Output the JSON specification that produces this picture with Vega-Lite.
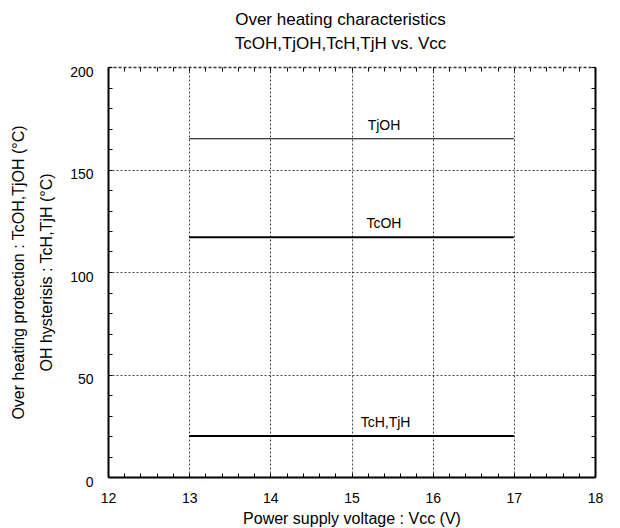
{
  "$schema": "https://vega.github.io/schema/vega-lite/v6.json",
  "width": 487,
  "height": 410,
  "autosize": {"type": "none"},
  "padding": {"left": 108, "top": 67, "right": 25, "bottom": 51},
  "background": "white",
  "config": {
    "view": {"stroke": null},
    "font": "Liberation Sans",
    "axis": {"labelFont": "Liberation Sans", "titleFont": "Liberation Sans", "labelColor": "#000", "titleColor": "#000", "titleFontWeight": "normal"}
  },
  "title": {
    "text": ["Over heating characteristics", "TcOH,TjOH,TcH,TjH vs. Vcc"],
    "fontSize": 17,
    "fontWeight": "normal",
    "font": "Liberation Sans",
    "color": "#000",
    "lineHeight": 24,
    "offset": 12,
    "dx": -11
  },
  "layer": [
    {
      "data": {"values": [
        {"series": "TjOH", "v1": 13, "v2": 17, "t": 165},
        {"series": "TcOH", "v1": 13, "v2": 17, "t": 117},
        {"series": "TcH,TjH", "v1": 13, "v2": 17, "t": 20}
      ]},
      "mark": {"type": "rule", "color": "#000"},
      "encoding": {
        "x": {"field": "v1", "type": "quantitative",
          "scale": {"domain": [12, 18], "nice": false, "zero": false},
          "axis": {
            "orient": "bottom",
            "title": "Power supply voltage : Vcc (V)",
            "titleFontSize": 16,
            "titlePadding": 5,
            "values": [12,12.2,12.4,12.6,12.8,13,13.2,13.4,13.6,13.8,14,14.2,14.4,14.6,14.8,15,15.2,15.4,15.6,15.8,16,16.2,16.4,16.6,16.8,17,17.2,17.4,17.6,17.8,18],
            "labelExpr": "abs(datum.value - round(datum.value)) < 0.001 ? format(datum.value, 'd') : ''",
            "labelOverlap": false,
            "labelFlush": false,
            "labelFontSize": 14,
            "labelPadding": 18,
            "tickSize": -4,
            "tickColor": "#000",
            "tickWidth": 1,
            "domainColor": "#000",
            "domainWidth": 2,
            "grid": true,
            "gridColor": "#444",
            "gridDash": [2, 2],
            "gridWidth": 1,
            "gridOpacity": {"condition": {"test": "abs(datum.value - round(datum.value)) < 0.001 && datum.value > 12.5 && datum.value < 17.5", "value": 1}, "value": 0}
          }
        },
        "x2": {"field": "v2"},
        "y": {"field": "t", "type": "quantitative",
          "scale": {"domain": [0, 200], "nice": false},
          "axis": {
            "orient": "left",
            "title": ["Over heating protection : TcOH,TjOH (°C)", "OH hysterisis : TcH,TjH (°C)"],
            "titleFontSize": 16,
            "titleLineHeight": 28,
            "titleBaseline": "middle",
            "titleX": -90,
            "values": [0,10,20,30,40,50,60,70,80,90,100,110,120,130,140,150,160,170,180,190,200],
            "labelExpr": "datum.value % 50 == 0 ? format(datum.value, 'd') : ''",
            "labelOverlap": false,
            "labelFlush": false,
            "labelFontSize": 14,
            "labelPadding": 19,
            "labelBaseline": "top",
            "labelOffset": -2,
            "tickSize": -4,
            "tickColor": "#000",
            "tickWidth": 1,
            "domainColor": "#000",
            "domainWidth": 2,
            "grid": true,
            "gridColor": "#444",
            "gridDash": [2, 2],
            "gridWidth": 1,
            "gridOpacity": {"condition": {"test": "datum.value % 50 == 0 && datum.value > 0 && datum.value < 200", "value": 1}, "value": 0}
          }
        },
        "strokeWidth": {"condition": {"test": "datum.series === 'TjOH'", "value": 1}, "value": 2}
      }
    },
    {
      "data": {"values": [
        {"label": "TjOH", "lx": 15.4, "ly": 165},
        {"label": "TcOH", "lx": 15.4, "ly": 117},
        {"label": "TcH,TjH", "lx": 15.42, "ly": 20}
      ]},
      "mark": {"type": "text", "fontSize": 14, "font": "Liberation Sans", "color": "#000", "baseline": "bottom", "dy": -6},
      "encoding": {
        "x": {"field": "lx", "type": "quantitative",
          "axis": {
            "orient": "top", "title": null, "labels": false, "grid": false,
            "values": [12,12.2,12.4,12.6,12.8,13,13.2,13.4,13.6,13.8,14,14.2,14.4,14.6,14.8,15,15.2,15.4,15.6,15.8,16,16.2,16.4,16.6,16.8,17,17.2,17.4,17.6,17.8,18],
            "tickSize": -4, "tickColor": "#000", "tickWidth": 1,
            "domainColor": "#333", "domainWidth": 1.5, "domainDash": [3, 2]
          }
        },
        "y": {"field": "ly", "type": "quantitative",
          "axis": {
            "orient": "right", "title": null, "labels": false, "grid": false,
            "values": [0,10,20,30,40,50,60,70,80,90,100,110,120,130,140,150,160,170,180,190,200],
            "tickSize": -4, "tickColor": "#000", "tickWidth": 1,
            "domainColor": "#000", "domainWidth": 2
          }
        },
        "text": {"field": "label"}
      }
    }
  ],
  "resolve": {"axis": {"x": "independent", "y": "independent"}}
}
